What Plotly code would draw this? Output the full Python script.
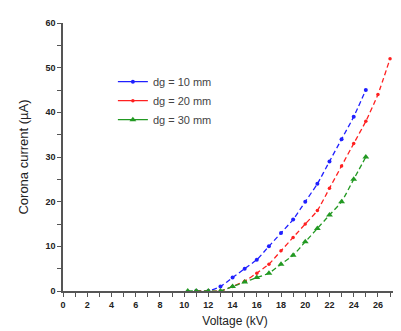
import plotly.graph_objects as go

voltage_10 = [11, 12, 13, 14, 15, 16, 17, 18, 19, 20, 21, 22, 23, 24, 25]
current_10 = [0, 0, 1, 3, 5, 7, 10, 13, 16, 20, 24, 29, 34, 39, 45]

voltage_20 = [11, 12, 13, 14, 15, 16, 17, 18, 19, 20, 21, 22, 23, 24, 25, 26, 27]
current_20 = [0, 0, 0, 1, 2.2, 4, 6, 9, 12, 15, 18, 23, 28, 33, 38, 44, 52]

voltage_30 = [10.3, 11, 12, 13, 14, 15, 16, 17, 18, 19, 20, 21, 22, 23, 24, 25]
current_30 = [0, 0, 0, 0, 1, 2, 3, 4, 6, 8, 11, 14, 17, 20, 25, 30]

names = ["dg = 10 mm", "dg = 20 mm", "dg = 30 mm"]
colors = ["#2020ff", "#ff2020", "#229922"]

x_ticks = list(range(0, 29, 1))
y_ticks = list(range(0, 61, 5))

fig = go.Figure()
series = [(voltage_10, current_10, "circle", 4),
          (voltage_20, current_20, "circle", 3.5),
          (voltage_30, current_30, "triangle-up", 6)]
for (xv, yv, sym, sz), name, col in zip(series, names, colors):
    fig.add_trace(go.Scatter(
        x=xv, y=yv, name=name, mode="lines+markers", showlegend=False,
        line=dict(color=col, width=1.3, dash="5px,3px", shape="spline", smoothing=0.5),
        marker=dict(symbol=sym, size=sz, color=col),
    ))
# legend entries drawn with solid lines, as in the original legend
for (xv, yv, sym, sz), name, col in zip(series, names, colors):
    fig.add_trace(go.Scatter(
        x=[None], y=[None], name=name, mode="lines+markers",
        line=dict(color=col, width=1.3), marker=dict(symbol=sym, size=sz, color=col),
    ))

tick_font = dict(family="Liberation Sans, Arial", size=9, color="#222222", weight="bold")
axis_common = dict(showgrid=False, zeroline=False, showline=True, linecolor="#555555",
                   linewidth=1.5, ticks="outside", tickcolor="#555555", ticklen=4,
                   tickfont=tick_font)

fig.update_layout(
    width=401, height=331,
    margin=dict(l=55, r=2, t=15, b=48),
    plot_bgcolor="white", paper_bgcolor="white",
    showlegend=True,
    legend=dict(x=0.145, y=0.835, xanchor="left", yanchor="top",
                bgcolor="rgba(0,0,0,0)",
                font=dict(family="Liberation Sans, Arial", size=11, color="#444444"),
                tracegroupgap=0),
)
fig.update_xaxes(range=[0, 28.4], tickvals=x_ticks,
                 ticktext=[str(v) if v % 2 == 0 else "" for v in x_ticks],
                 title=dict(text="Voltage (kV)", font=dict(family="Liberation Sans, Arial", size=12, color="#222222"), standoff=8),
                 **axis_common)
fig.update_yaxes(range=[0, 60], tickvals=y_ticks,
                 ticktext=[str(v) if v % 10 == 0 else "" for v in y_ticks],
                 title=dict(text="Corona current (µA)", font=dict(family="Liberation Sans, Arial", size=13, color="#222222"), standoff=14),
                 **axis_common)

fig.write_html("out.html")
